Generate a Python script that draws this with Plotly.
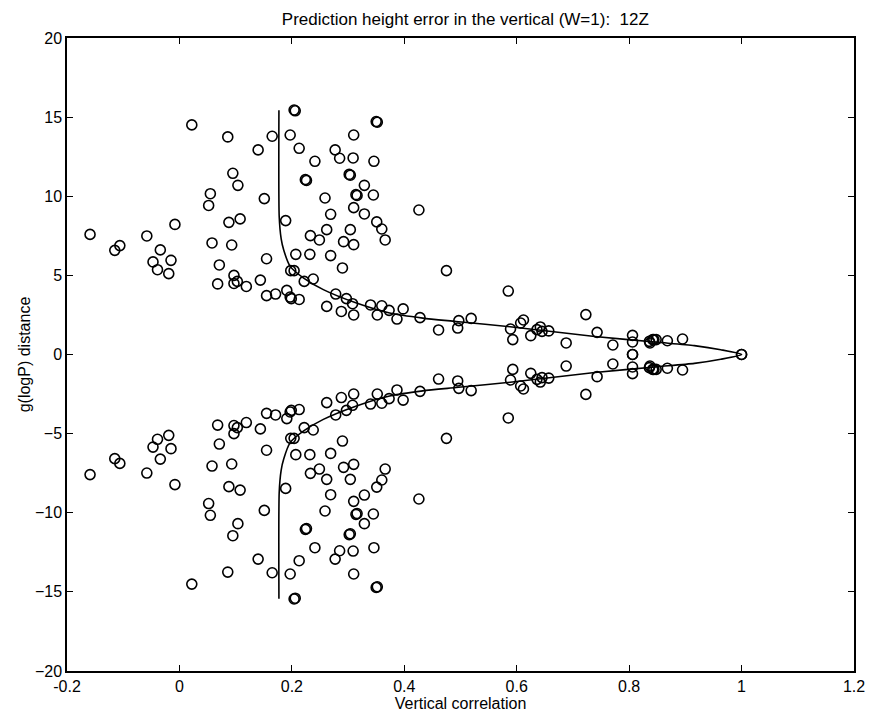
import plotly.graph_objects as go

# Upper-half scatter points (the chart is mirrored about y = 0)
pts_x = [-0.159, -0.106, -0.115, -0.058, -0.034, -0.047, -0.015, -0.039, -0.019, -0.008,
         0.022, 0.055, 0.052, 0.058, 0.071, 0.068, 0.086, 0.088, 0.093, 0.095,
         0.097, 0.097, 0.103, 0.104, 0.108, 0.119, 0.140, 0.144, 0.151, 0.155,
         0.155, 0.165, 0.171, 0.189, 0.191, 0.197, 0.204, 0.206, 0.198, 0.204,
         0.197, 0.199, 0.213, 0.207, 0.213, 0.224, 0.226, 0.222, 0.238, 0.233,
         0.232, 0.249, 0.241, 0.259, 0.262, 0.269, 0.269, 0.262, 0.277, 0.285,
         0.278, 0.292, 0.290, 0.288, 0.302, 0.304, 0.304, 0.297, 0.310, 0.309,
         0.314, 0.316, 0.310, 0.310, 0.308, 0.310, 0.329, 0.329, 0.340, 0.346,
         0.345, 0.350, 0.352, 0.351, 0.360, 0.366, 0.360, 0.352, 0.373, 0.398,
         0.387, 0.426, 0.428, 0.461, 0.475, 0.497, 0.495, 0.519, 0.585, 0.589,
         0.593, 0.607, 0.612, 0.625, 0.636, 0.642, 0.645, 0.657, 0.688, 0.723,
         0.743, 0.771, 0.806, 0.806, 0.837, 0.842, 0.836, 0.844, 0.848, 0.868,
         0.895, 1.000, 0.806]
pts_y = [7.59, 6.88, 6.58, 7.49, 6.61, 5.85, 5.95, 5.36, 5.11, 8.22,
         14.51, 10.16, 9.42, 7.05, 5.66, 4.46, 13.75, 8.35, 6.92, 11.45,
         5.00, 4.49, 4.62, 10.69, 8.57, 4.30, 12.93, 4.70, 9.85, 6.05,
         3.72, 13.79, 3.82, 8.46, 4.05, 13.87, 15.45, 15.40, 5.30, 5.30,
         3.63, 3.53, 3.48, 6.33, 13.03, 11.05, 11.00, 4.62, 4.77, 7.51,
         6.33, 7.24, 12.21, 9.89, 7.89, 8.86, 6.25, 3.04, 12.93, 12.40,
         3.82, 7.13, 5.47, 2.72, 11.38, 11.33, 7.89, 3.53, 13.87, 12.42,
         10.10, 10.05, 9.28, 6.94, 3.21, 2.50, 10.69, 8.88, 3.13, 12.21,
         10.08, 14.72, 14.68, 8.38, 7.93, 7.24, 3.08, 2.50, 2.79, 2.88,
         2.24, 9.13, 2.33, 1.55, 5.30, 2.14, 1.67, 2.28, 4.01, 1.61,
         0.94, 1.99, 2.18, 1.19, 1.57, 1.74, 1.46, 1.49, 0.73, 2.52,
         1.40, 0.60, 1.21, 0.79, 0.73, 0.94, 0.83, 0.94, 0.94, 0.87,
         0.98, 0.00, 0.00]

# Upper branch of the fitted curve
curve_x = [0.177, 0.1775, 0.181, 0.1855, 0.197, 0.221, 0.256, 0.315, 0.374,
           0.433, 0.492, 0.592, 0.739, 0.851, 0.916, 0.963, 1.0]
curve_y = [15.43, 8.70, 7.30, 6.60, 5.57, 4.83, 4.10, 3.25, 2.62,
           2.30, 2.09, 1.74, 1.14, 0.77, 0.56, 0.30, 0.0]

x_ticks = [-0.2, 0, 0.2, 0.4, 0.6, 0.8, 1, 1.2]
x_tick_text = ["-0.2", "0", "0.2", "0.4", "0.6", "0.8", "1", "1.2"]
y_ticks = [-20, -15, -10, -5, 0, 5, 10, 15, 20]

all_x = pts_x + pts_x
all_y = pts_y + [-v for v in pts_y]

line_x = curve_x[:-1] + curve_x[::-1]
line_y = [-v for v in curve_y[:-1]] + curve_y[::-1]

fig = go.Figure()
fig.add_trace(go.Scatter(
    x=line_x, y=line_y, mode="lines",
    line=dict(color="black", width=1.6, shape="spline", smoothing=0.6),
    hoverinfo="skip", showlegend=False))
fig.add_trace(go.Scatter(
    x=all_x, y=all_y, mode="markers",
    marker=dict(symbol="circle-open", size=10, color="black",
                line=dict(color="black", width=1.6)),
    showlegend=False))

fam = "Liberation Sans, Arial, sans-serif"
tick_font = dict(family=fam, size=16, color="black")
lab_font = dict(family=fam, size=16, color="black")
fig.update_layout(
    width=877, height=723,
    margin=dict(l=67, r=16, t=38, b=52),
    paper_bgcolor="white", plot_bgcolor="white",
    font=dict(family=fam, size=14, color="black"),
    title=dict(text="Prediction height error in the vertical (W=1):  12Z",
               x=0.5306, xanchor="center", y=0.982, yanchor="top",
               font=dict(family=fam, size=17, color="black")),
    xaxis=dict(range=[-0.2, 1.2], tickvals=x_ticks, ticktext=x_tick_text,
               ticks="inside", ticklen=6, tickwidth=1, tickcolor="black",
               showline=True, linecolor="black", linewidth=1.5, mirror="ticks",
               showgrid=False, zeroline=False,
               title=dict(text="Vertical correlation", standoff=2, font=lab_font),
               tickfont=tick_font),
    yaxis=dict(range=[-20, 20], tickvals=y_ticks,
               ticks="inside", ticklen=6, tickwidth=1, tickcolor="black",
               showline=True, linecolor="black", linewidth=1.5, mirror="ticks",
               showgrid=False, zeroline=False,
               title=dict(text="g(logP) distance", standoff=0, font=lab_font),
               tickfont=tick_font),
)
fig.write_html("out.html")
